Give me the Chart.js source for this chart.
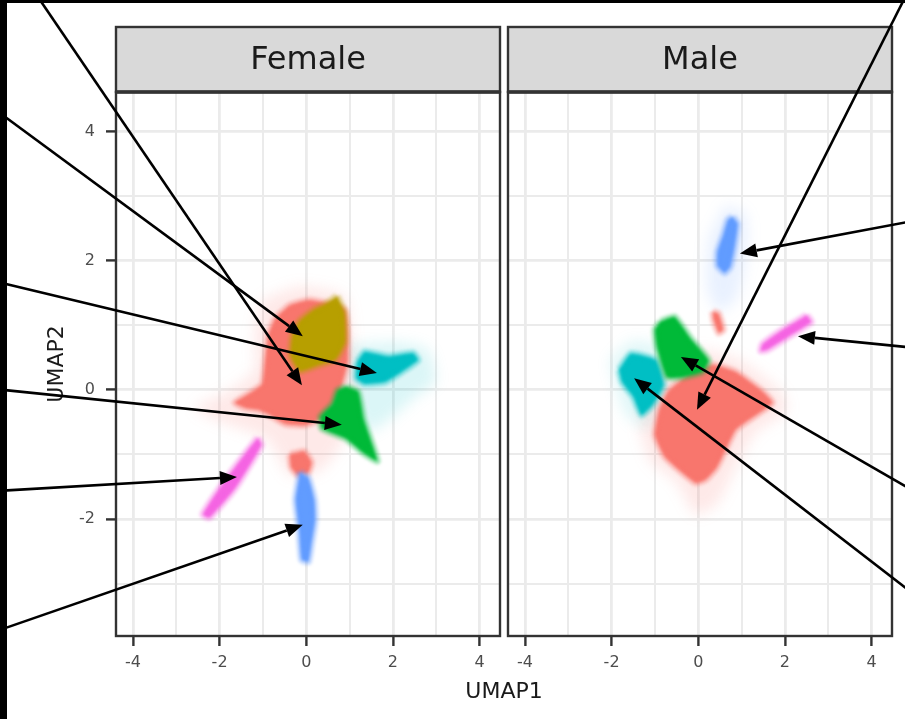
<!DOCTYPE html>
<html><head><meta charset="utf-8">
<script src="https://cdn.jsdelivr.net/npm/chart.js@4.4.1/dist/chart.umd.min.js"></script>
<style>
html,body{margin:0;padding:0;background:#fff;width:905px;height:719px;overflow:hidden;}
#wrap{position:relative;width:905px;height:719px;}
canvas{position:absolute;left:0;top:0;}
#barL{position:absolute;left:0;top:0;width:7px;height:719px;background:#000;z-index:5}
#barT{position:absolute;left:0;top:0;width:905px;height:3px;background:#000;z-index:5}
</style></head><body>
<div id="wrap"><canvas id="cF" width="905" height="719"></canvas><canvas id="cM" width="905" height="719"></canvas><div id="barL"></div><div id="barT"></div></div>
<script>
// ---------- data (UMAP coordinates) ----------
const panels = ['Female', 'Male'];
const xTickValues = [-4, -3, -2, -1, 0, 1, 2, 3, 4];
const xTickLabels = ['-4', '', '-2', '', '0', '', '2', '', '4'];
const yTickValues = [-3, -2, -1, 0, 1, 2, 3, 4];
const yTickLabels = ['', '-2', '', '0', '', '2', '', '4'];
const xRange = [-4.39, 4.47];
const yRange = [-3.81, 4.61];

const femaleRed = [[-0.72,1.11],[-0.38,1.31],[0.09,1.39],[0.89,1.24],[0.96,0.46],[0.82,0.07],[0.66,-0.20],[0.36,-0.44],[-0.03,-0.55],[-0.49,-0.53],[-0.84,-0.39],[-1.11,-0.31],[-1.41,-0.28],[-1.65,-0.20],[-1.35,-0.07],[-1.02,0.09],[-0.95,0.46],[-0.88,0.85]];
const femaleOlive = [[0.71,1.45],[0.88,1.20],[0.90,0.74],[0.68,0.47],[0.23,0.37],[-0.15,0.29],[-0.36,0.52],[-0.32,0.85],[-0.15,1.07],[0.17,1.24],[0.42,1.32]];
const femaleGreen = [[0.92,0.05],[1.20,-0.03],[1.33,-0.46],[1.64,-1.10],[1.32,-0.98],[0.92,-0.76],[0.36,-0.60],[0.33,-0.41],[0.60,-0.22],[0.72,-0.01]];
const femaleCyan = [[1.17,0.43],[1.35,0.59],[1.89,0.52],[2.46,0.57],[2.58,0.46],[2.21,0.28],[1.82,0.12],[1.35,0.09],[1.15,0.18]];
const femalePink = [[-1.12,-0.74],[-1.03,-0.85],[-1.63,-1.52],[-2.23,-1.98],[-2.39,-1.93],[-1.95,-1.47],[-1.35,-0.93]];
const femaleBlue = [[-0.15,-1.27],[0.05,-1.36],[0.19,-1.70],[0.21,-2.01],[0.12,-2.40],[0.05,-2.66],[-0.11,-2.63],[-0.17,-2.17],[-0.25,-1.70]];
const femaleRedBlob = [[-0.38,-1.00],[-0.05,-0.95],[0.12,-1.12],[0.05,-1.28],[-0.20,-1.32],[-0.35,-1.20]];
const femaleRedHalo = [[-1.03,1.39],[-0.15,1.60],[0.88,1.45],[1.05,0.77],[1.14,-0.15],[0.88,-0.77],[0.35,-1.24],[-0.39,-1.32],[-0.89,-0.77],[-1.95,-0.50],[-2.57,-0.28],[-1.81,-0.03],[-1.19,0.31],[-1.19,0.93]];
const femaleCyanHalo = [[0.88,0.70],[2.15,0.73],[2.80,0.62],[2.98,0.12],[2.57,-0.08],[1.92,-0.46],[1.41,-0.65],[1.04,-0.12]];

const maleRed = [[-0.22,0.25],[0.33,0.39],[0.86,0.28],[1.44,0.00],[1.71,-0.20],[1.25,-0.43],[0.86,-0.62],[0.63,-0.93],[0.42,-1.21],[0.17,-1.39],[-0.06,-1.44],[-0.41,-1.26],[-0.78,-1.03],[-1.00,-0.70],[-0.90,-0.31],[-0.70,-0.03]];
const maleGreen = [[-0.87,1.06],[-0.55,1.13],[-0.18,0.80],[0.24,0.46],[0.10,0.28],[-0.41,0.19],[-0.73,0.20],[-0.95,0.65],[-1.00,0.93]];
const maleCyan = [[-1.83,0.31],[-1.56,0.56],[-0.98,0.46],[-0.80,0.08],[-1.05,-0.23],[-1.31,-0.39],[-1.50,-0.11],[-1.76,0.12]];
const maleBlue = [[0.79,2.68],[0.91,2.57],[0.84,2.21],[0.74,1.90],[0.61,1.81],[0.44,1.92],[0.44,2.14],[0.58,2.41],[0.68,2.63]];
const malePink = [[2.50,1.16],[2.61,1.05],[2.13,0.84],[1.60,0.62],[1.44,0.60],[1.48,0.71],[1.94,0.93]];
const maleRedStreak = [[0.33,1.21],[0.47,1.18],[0.58,0.93],[0.47,0.88],[0.35,1.08]];
const maleRedHalo = [[-0.87,0.31],[0.05,0.62],[0.97,0.46],[1.94,-0.05],[2.03,-0.34],[1.34,-0.65],[0.88,-1.18],[0.42,-1.78],[-0.06,-1.93],[-0.52,-1.42],[-1.10,-1.11],[-1.33,-0.65],[-1.21,-0.12]];
const maleBlueHalo = [[0.63,2.86],[1.09,2.71],[1.09,1.98],[0.86,1.39],[0.47,1.21],[0.21,1.55],[0.24,2.32]];
const maleCyanHalo = [[-2.05,0.45],[-1.55,0.75],[-0.85,0.65],[-0.70,0.00],[-1.20,-0.60],[-1.70,-0.35]];

// arrows: tail and head, in each panel's UMAP units
const femaleArrowTails = [[-6.14,6.03],[-7.0,4.25],[-7.0,1.65],[-7.0,0.00],[-7.0,-1.56],[-7.0,-3.70]];
const femaleArrowHeads = [[-0.10,0.07],[-0.08,0.83],[1.63,0.26],[0.82,-0.54],[-1.60,-1.35],[-0.08,-2.09]];
const maleArrowTails = [[4.76,6.06],[4.85,2.60],[4.85,0.66],[4.85,-1.52],[4.85,-3.10]];
const maleArrowHeads = [[-0.03,-0.31],[0.96,2.11],[2.30,0.83],[-0.40,0.51],[-1.48,0.18]];

const colRed = '#F8766D', colOlive = '#B79F00', colGreen = '#00BA38', colCyan = '#00BFC4', colBlue = '#619CFF', colPink = '#F564E3';

// ---------- helpers ----------
const FONT = "'DejaVu Sans', sans-serif";
Chart.defaults.font.family = FONT;
function rgba(hex, a) { const n = parseInt(hex.slice(1), 16); return `rgba(${(n>>16)&255},${(n>>8)&255},${n&255},${a})`; }
function pts(arr) { const p = arr.map(([x, y]) => ({x, y})); p.push({x: arr[0][0], y: arr[0][1]}); return p; }
function core(arr, color, order) {
  return {data: pts(arr), showLine: true, fill: 'shape', backgroundColor: color, borderColor: rgba(color, 0.35),
    borderWidth: 7, borderJoinStyle: 'round', pointRadius: 0, tension: 0.15, order, blur: 1.8};
}
function halo(arr, color, a) {
  return {data: pts(arr), showLine: true, fill: 'shape', backgroundColor: rgba(color, a), borderColor: 'rgba(0,0,0,0)',
    borderWidth: 1, pointRadius: 0, tension: 0.2, order: 10, blur: 7};
}
function setBlur(chart, meta) {
  chart.ctx.filter = meta ? `blur(${chart.data.datasets[meta.index].blur || 0}px)` : 'none';
}
const blurPlugin = {
  id: 'blurPlugin',
  beforeDatasetsDraw(chart) { const m = chart.getSortedVisibleDatasetMetas(); setBlur(chart, m[m.length - 1]); },
  afterDatasetDraw(chart, args) {
    const m = chart.getSortedVisibleDatasetMetas();
    const pos = m.findIndex(x => x.index === args.index);
    setBlur(chart, pos > 0 ? m[pos - 1] : null);
  },
  afterDatasetsDraw(chart) { chart.ctx.filter = 'none'; }
};
function panelPlugin(label, tails, heads) {
  return {
    id: 'panel_' + label,
    afterDatasetsDraw(chart) {
      const {ctx, chartArea: a} = chart;
      ctx.save();
      ctx.filter = 'none';
      const sh = 65;
      ctx.fillStyle = '#D9D9D9';
      ctx.fillRect(a.left, a.top - sh, a.right - a.left, sh);
      ctx.lineWidth = 2.4; ctx.strokeStyle = '#333333';
      ctx.strokeRect(a.left, a.top - sh, a.right - a.left, sh);
      ctx.strokeRect(a.left, a.top, a.right - a.left, a.bottom - a.top);
      ctx.lineWidth = 3.4;
      ctx.beginPath(); ctx.moveTo(a.left, a.top); ctx.lineTo(a.right, a.top); ctx.stroke();
      ctx.fillStyle = '#1A1A1A'; ctx.font = `32px ${FONT}`; ctx.textAlign = 'center'; ctx.textBaseline = 'middle';
      ctx.fillText(label, (a.left + a.right) / 2, a.top - sh / 2 + 1);
      ctx.restore();
    },
    afterDraw(chart) {
      const {ctx, scales: {x, y}} = chart;
      ctx.save();
      ctx.filter = 'none';
      ctx.strokeStyle = '#000'; ctx.fillStyle = '#000'; ctx.lineWidth = 2.6; ctx.lineCap = 'butt';
      tails.forEach((t, i) => {
        const h = heads[i];
        const x0 = x.getPixelForValue(t[0]), y0 = y.getPixelForValue(t[1]);
        const x1 = x.getPixelForValue(h[0]), y1 = y.getPixelForValue(h[1]);
        const ang = Math.atan2(y1 - y0, x1 - x0), L = 17, W = 7;
        const bx = x1 - L * Math.cos(ang), by = y1 - L * Math.sin(ang);
        ctx.beginPath(); ctx.moveTo(x0, y0); ctx.lineTo(bx, by); ctx.stroke();
        ctx.beginPath();
        ctx.moveTo(x1, y1);
        ctx.lineTo(bx + W * Math.sin(ang), by - W * Math.cos(ang));
        ctx.lineTo(bx - W * Math.sin(ang), by + W * Math.cos(ang));
        ctx.closePath(); ctx.fill();
      });
      ctx.restore();
    }
  };
}
const majorOnly = (c, on, off) => (c.tick && Math.round(c.tick.value) % 2 === 0) ? on : off;
function gridOpts(drawTicks) {
  return {color: '#EBEBEB', lineWidth: c => majorOnly(c, 2.8, 2.0), drawTicks, tickLength: 10, tickWidth: 2.4,
    tickColor: c => majorOnly(c, '#333333', 'rgba(0,0,0,0)')};
}
function xScale() {
  return {type: 'linear', min: xRange[0], max: xRange[1],
    afterBuildTicks: s => { s.ticks = xTickValues.map(v => ({value: v})); },
    afterFit: s => { s.height = 40; },
    ticks: {autoSkip: false, maxRotation: 0, padding: 7, color: '#4D4D4D', font: {family: FONT, size: 16},
      callback: (v, i) => xTickLabels[i]},
    grid: gridOpts(true), border: {display: false}};
}
function yScale(showLabels) {
  const s = {type: 'linear', min: yRange[0], max: yRange[1],
    afterBuildTicks: sc => { sc.ticks = yTickValues.map(v => ({value: v})); },
    afterFit: sc => { sc.width = showLabels ? 108 : 392; },
    ticks: {display: showLabels, autoSkip: false, padding: 11, color: '#4D4D4D', font: {family: FONT, size: 16},
      callback: (v, i) => yTickLabels[i]},
    grid: gridOpts(showLabels), border: {display: false}};
  if (showLabels) s.title = {display: true, text: 'UMAP2', color: '#1A1A1A', font: {family: FONT, size: 22}, padding: {top: 36, bottom: 0}};
  return s;
}

// ---------- Female panel ----------
new Chart(document.getElementById('cF'), {
  type: 'scatter',
  data: {datasets: [
    halo(femaleRedHalo, colRed, 0.16),
    halo(femaleCyanHalo, colCyan, 0.14),
    core(femaleRed, colRed, 5),
    core(femaleRedBlob, colRed, 5),
    core(femaleOlive, colOlive, 2),
    core(femaleGreen, colGreen, 1),
    core(femaleCyan, colCyan, 1),
    core(femalePink, colPink, 1),
    core(femaleBlue, colBlue, 1)
  ]},
  options: {
    responsive: false, animation: false, events: [],
    layout: {padding: {left: 8, top: 92, right: 405, bottom: 43}},
    plugins: {legend: {display: false}, tooltip: {enabled: false}, title: {display: false}},
    scales: {x: xScale(), y: yScale(true)}
  },
  plugins: [blurPlugin, panelPlugin(panels[0], femaleArrowTails, femaleArrowHeads)]
});

// ---------- Male panel ----------
new Chart(document.getElementById('cM'), {
  type: 'scatter',
  data: {datasets: [
    halo(maleRedHalo, colRed, 0.16),
    halo(maleBlueHalo, colBlue, 0.14),
    halo(maleCyanHalo, colCyan, 0.12),
    core(maleRed, colRed, 5),
    core(maleRedStreak, colRed, 1),
    core(maleCyan, colCyan, 2),
    core(maleGreen, colGreen, 1),
    core(maleBlue, colBlue, 1),
    core(malePink, colPink, 1)
  ]},
  options: {
    responsive: false, animation: false, events: [],
    layout: {padding: {left: 116, top: 92, right: 13, bottom: 13.6}},
    plugins: {legend: {display: false}, tooltip: {enabled: false},
      title: {display: true, text: 'UMAP1', position: 'bottom', color: '#1A1A1A',
        font: {family: FONT, size: 22, weight: 'normal'}, padding: {top: 3, bottom: 0}}},
    scales: {x: xScale(), y: yScale(false)}
  },
  plugins: [blurPlugin, panelPlugin(panels[1], maleArrowTails, maleArrowHeads)]
});
</script>
</body></html>
